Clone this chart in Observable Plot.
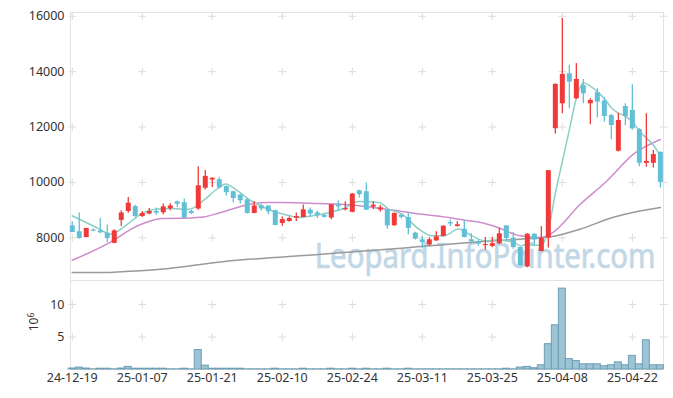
<!DOCTYPE html>
<html><head><meta charset="utf-8">
<script src="https://cdn.jsdelivr.net/npm/d3@7"></script>
<script src="https://cdn.jsdelivr.net/npm/@observablehq/plot@0.6"></script>
<style>
body{margin:0;background:#fff;}
#chart{width:673px;height:398px;}
#chart svg{display:block;}
</style></head><body><div id="chart"></div>
<script>
const dates = ["24-12-19","24-12-20","24-12-23","24-12-24","24-12-26","24-12-27","24-12-30","25-01-02","25-01-03","25-01-06",
"25-01-07","25-01-08","25-01-09","25-01-10","25-01-13","25-01-14","25-01-15","25-01-16","25-01-17","25-01-20",
"25-01-21","25-01-22","25-01-23","25-01-24","25-01-31","25-02-03","25-02-04","25-02-05","25-02-06","25-02-07",
"25-02-10","25-02-11","25-02-12","25-02-13","25-02-14","25-02-17","25-02-18","25-02-19","25-02-20","25-02-21",
"25-02-24","25-02-25","25-02-26","25-02-27","25-02-28","25-03-04","25-03-05","25-03-06","25-03-07","25-03-10",
"25-03-11","25-03-12","25-03-13","25-03-14","25-03-17","25-03-18","25-03-19","25-03-20","25-03-21","25-03-24",
"25-03-25","25-03-26","25-03-27","25-03-28","25-03-31","25-04-01","25-04-02","25-04-03","25-04-04","25-04-07",
"25-04-08","25-04-09","25-04-10","25-04-11","25-04-14","25-04-15","25-04-16","25-04-17","25-04-18","25-04-21",
"25-04-22","25-04-23","25-04-24","25-04-25","25-04-28"];
const open = [8430,8220,8010,8280,8250,8170,7800,8630,8950,9130,
8770,8860,8950,8905,9050,9300,9270,8950,9040,9790,
10090,10100,9850,9665,9545,9375,8880,9160,9150,8980,
8520,8590,8710,8735,9000,8900,8810,8715,9190,9015,
8920,9700,9665,9110,9005,9000,8435,8820,8735,8170,
7930,7740,7890,8050,8550,8410,8315,7930,7830,7720,
7690,7785,8430,7990,7650,6950,8130,7505,7990,11940,
12840,13925,13020,13500,12840,13240,12935,12415,11125,12740,
12600,11910,10690,10690,11090];
const high = [8580,8900,8340,8320,8700,8460,8290,8980,9460,9180,
8950,9060,9080,9220,9230,9330,9400,9000,10570,10430,
10170,10180,9870,9680,9560,9400,9310,9200,9160,9000,
8750,8750,8900,9190,9080,8970,8840,9200,9340,9300,
9600,9720,9980,9300,9170,9020,8900,8850,8900,8200,
8050,8000,8220,8440,8640,8580,8620,8150,7930,8010,
8000,8340,8450,8190,7660,8150,8150,8400,10430,13560,
15920,14230,14290,13720,13020,13380,13060,12450,12500,12840,
13530,11950,12480,11150,11100];
const low = [8190,7950,8000,8220,8150,7830,7790,8410,8890,8740,
8730,8830,8820,8830,8980,9090,8700,8830,9000,9730,
9820,9760,9510,9260,9220,8860,8870,8960,8830,8440,
8420,8560,8590,8730,8730,8700,8720,8650,8950,8970,
8910,9440,8990,9020,8920,8310,8420,8680,8100,7920,
7610,7700,7870,8030,8410,8380,8000,7770,7700,7560,
7650,7760,7890,7590,6980,6920,7710,7500,7630,11750,
12480,12660,12990,12840,12080,12330,12170,11540,11100,12050,
11900,10570,10545,10520,9800];
const close = [8190,7975,8340,8240,8180,7975,8250,8900,9250,8770,
8880,8950,8890,9120,9150,9210,8710,8880,9880,10220,
10150,9800,9630,9420,9340,8880,9150,9040,8940,8445,
8660,8700,8770,9010,8860,8800,8740,9195,9120,9060,
9580,9560,9000,9180,9085,8430,8880,8740,8340,7950,
7830,7930,8035,8420,8500,8470,8010,7860,7770,7760,
7790,8145,7975,7650,6990,8130,7920,7990,10425,13540,
13900,13620,13720,13200,12960,12900,12380,12055,12235,12380,
11935,10690,10760,11005,10000];
const volume = [0.15,0.3,0.15,0.03,0.12,0.12,0.03,0.15,0.4,0.12,
0.12,0.12,0.12,0.12,0.03,0.03,0.12,0.03,3.0,0.6,
0.12,0.12,0.12,0.12,0.12,0.03,0.03,0.03,0.03,0.12,
0.03,0.03,0.03,0.12,0.03,0.03,0.03,0.12,0.03,0.03,
0.12,0.03,0.12,0.03,0.03,0.12,0.03,0.03,0.12,0.03,
0.03,0.03,0.03,0.03,0.03,0.03,0.03,0.03,0.03,0.03,
0.03,0.03,0.12,0.03,0.3,0.4,0.2,0.65,3.9,6.8,
12.45,1.6,1.3,0.8,0.8,0.8,0.5,0.65,1.1,0.65,
2.1,0.8,4.5,0.65,0.65];

const ma5Day = [0,2,3.9,5.5,7.9,9.8,12.2,14.1,16.7,18.8,20.7,21.9,23.6,25.5,27.4,29.3,31.1,32.4,34.3,36.7,38.6,40.9,43.8,45.2,47.1,49.5,51.4,53.1,55.2,57.1,59,60.9,62,63,64,65,66,67,68,69,70,71,72,73,74,75,76,77,78,79,80,81,82,83,84];
const ma5 = [8796,8554,8315,8134,8496,8858,9039,9061,9030,9365,9763,9944,9701,9340,9097,8916,8796,8735,8796,8916,9039,9314,9278,9039,8858,8315,8072,8072,8315,8072,7891,7928,7888,7864,7710,7778,7733,7736,8291,9601,10755,11895,13041,13596,13480,13280,13032,12699,12506,12390,12197,11859,11600,11354,10950];
const ma20Day = [0,6.2,8.4,10.5,12.9,15.5,18.4,21.2,25,27,30,35,40,44.7,49.7,53,56.6,58.3,60.4,64,66.9,68.3,72.6,76.4,80.2,84];
const ma20 = [7193,7953,8315,8554,8700,8705,8740,8916,9195,9270,9275,9240,9184,9039,8858,8760,8615,8554,8409,8072,8011,8134,9220,10063,11028,11550];
const ma120Day = [0,5,8,12.6,21.2,35.6,47,58.3,64,68.3,72.6,77.3,80.7,84];
const ma120 = [6750,6750,6790,6867,7130,7410,7627,7860,7953,8036,8320,8740,8950,9097];

const xTicks = [0,10,20,30,40,50,60,70,80];
const priceTicks = [8000,10000,12000,14000,16000];
const volTicks = [5,10];
const watermark = "Leopard.InfoPointer.com";

const candles = dates.map((d,i)=>({i, o:open[i], h:high[i], l:low[i], c:close[i], v:volume[i]}));
const pts = (ds, vs) => ds.map((d,k)=>({x:d, y:vs[k]}));
const UP = "#f03a3a", DOWN = "#62c0d6";
const col = d => d.c >= d.o ? UP : DOWN;
const xDomain = [-0.25, 84.45];
const font = "'Noto Sans', 'Open Sans', sans-serif";
const gridColor = "#dcdcdc";
const frameColor = "#e2e2e2";

const gridTop = [];
for (const x of [...xTicks, xDomain[1]]) for (const y of priceTicks) gridTop.push({x,y});
const gridBot = [];
for (const x of [...xTicks, xDomain[1]]) for (const y of volTicks) gridBot.push({x,y});

const topPlot = Plot.plot({
  width:673, height:280, marginTop:12, marginBottom:0, marginLeft:70, marginRight:10,
  style:{fontFamily:font, fontSize:"12.5px", color:"#333", background:"#fff", overflow:"visible"},
  color:{type:"identity"},
  x:{domain:xDomain, axis:null},
  y:{domain:[6460,16135], ticks:priceTicks, tickSize:0, tickPadding:6, label:null, tickFormat:d=>String(d)},
  marks:[
    Plot.text([watermark], {frameAnchor:"bottom-right", dx:-8, dy:-13, lineAnchor:"bottom", fontSize:35, fill:"#c2d7e6", stroke:"#c2d7e6", strokeWidth:0.7, fontFamily:font}),
    Plot.dot(gridTop, {x:"x", y:"y", symbol:"plus", r:2.6, stroke:gridColor, strokeWidth:1}),
    Plot.frame({stroke:frameColor}),
    Plot.line(pts(ma120Day, ma120), {x:"x", y:"y", stroke:"#9a9a9a", strokeWidth:1.5, curve:"monotone-x"}),
    Plot.line(pts(ma20Day, ma20), {x:"x", y:"y", stroke:"#cf8ccb", strokeWidth:1.5, curve:"monotone-x"}),
    Plot.line(pts(ma5Day, ma5), {x:"x", y:"y", stroke:"#8ccfc4", strokeWidth:1.5, curve:"monotone-x"}),
    Plot.ruleX(candles, {x:"i", y1:"l", y2:"h", stroke:col, strokeWidth:1.3}),
    Plot.ruleX(candles, {x:"i", y1:"o", y2:"c", stroke:col, strokeWidth:5})
  ]
});

const botPlot = Plot.plot({
  width:673, height:118, marginTop:0, marginBottom:29, marginLeft:70, marginRight:10,
  style:{fontFamily:font, fontSize:"12.5px", color:"#333", background:"#fff", overflow:"visible"},
  x:{domain:xDomain, ticks:xTicks, tickFormat:i=>dates[i], tickSize:0, tickPadding:4, label:null},
  y:{domain:[0,13.7], ticks:volTicks, tickSize:0, tickPadding:6, label:null},
  marks:[
    Plot.dot(gridBot, {x:"x", y:"y", symbol:"plus", r:2.6, stroke:gridColor, strokeWidth:1}),
    Plot.ruleX(xDomain, {stroke:frameColor}),
    Plot.ruleY([0], {stroke:frameColor}),
    Plot.rect(candles, {x1:d=>d.i-0.5, x2:d=>d.i+0.5, y1:0, y2:"v", fill:"#9cc4d5", stroke:"#6e9fb5", strokeWidth:1})
  ]
});

const chart = document.getElementById("chart");
chart.appendChild(topPlot);
chart.appendChild(botPlot);

// narrow the watermark horizontally to its width in the reference (anchored at its right end)
d3.select(topPlot).selectAll("text").filter(function(){ return this.textContent === watermark; })
  .each(function(){
    const len = this.getComputedTextLength();
    const s = len > 0 ? Math.min(1, 341 / len) : 0.87;
    const tr = this.getAttribute("transform");
    if (tr) {
      this.setAttribute("transform", tr + ` scale(${s},1)`);
    } else {
      const x = +this.getAttribute("x") || 0, y = +this.getAttribute("y") || 0;
      this.setAttribute("x", 0); this.setAttribute("y", 0);
      this.setAttribute("transform", `translate(${x},${y}) scale(${s},1)`);
    }
  });

// rotated 10^6 unit label
const lab = d3.select(botPlot).append("text")
  .attr("transform", "translate(38,42) rotate(-90)")
  .attr("text-anchor", "middle")
  .attr("fill", "#333")
  .style("font-family", font)
  .style("font-size", "12px");
lab.append("tspan").text("10");
lab.append("tspan").attr("dy", "-0.45em").style("font-size", "8.5px").text("6");
</script>
</body></html>
